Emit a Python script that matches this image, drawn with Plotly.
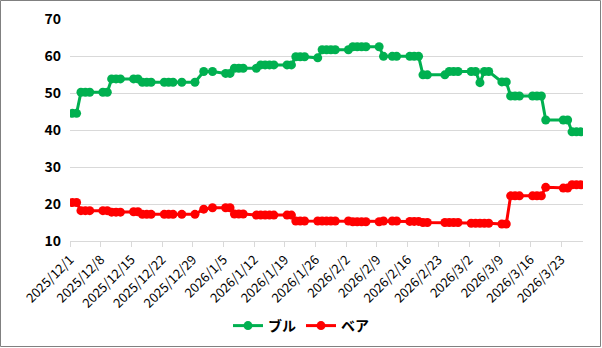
import plotly.graph_objects as go
import pandas as pd

dates = [
    "2025-12-01", "2025-12-02", "2025-12-03", "2025-12-04", "2025-12-05",
    "2025-12-08", "2025-12-09", "2025-12-10", "2025-12-11", "2025-12-12",
    "2025-12-15", "2025-12-16", "2025-12-17", "2025-12-18", "2025-12-19",
    "2025-12-22", "2025-12-23", "2025-12-24", "2025-12-26",
    "2025-12-29", "2025-12-31", "2026-01-02",
    "2026-01-05", "2026-01-06", "2026-01-07", "2026-01-08", "2026-01-09",
    "2026-01-12", "2026-01-13", "2026-01-14", "2026-01-15", "2026-01-16",
    "2026-01-19", "2026-01-20", "2026-01-21", "2026-01-22", "2026-01-23",
    "2026-01-26", "2026-01-27", "2026-01-28", "2026-01-29", "2026-01-30",
    "2026-02-02", "2026-02-03", "2026-02-04", "2026-02-05", "2026-02-06",
    "2026-02-09", "2026-02-10", "2026-02-12", "2026-02-13",
    "2026-02-16", "2026-02-17", "2026-02-18", "2026-02-19", "2026-02-20",
    "2026-02-24", "2026-02-25", "2026-02-26", "2026-02-27",
    "2026-03-02", "2026-03-03", "2026-03-04", "2026-03-05", "2026-03-06",
    "2026-03-09", "2026-03-10", "2026-03-11", "2026-03-12", "2026-03-13",
    "2026-03-16", "2026-03-17", "2026-03-18", "2026-03-19",
    "2026-03-23", "2026-03-24", "2026-03-25", "2026-03-26", "2026-03-27",
]

bull = [
    44.5, 44.5, 50.2, 50.2, 50.2,
    50.2, 50.2, 53.8, 53.8, 53.8,
    53.8, 53.8, 52.9, 52.9, 52.9,
    52.9, 52.9, 52.9, 52.9,
    52.9, 55.8, 55.8,
    55.3, 55.3, 56.7, 56.7, 56.7,
    56.7, 57.6, 57.6, 57.6, 57.6,
    57.6, 57.6, 59.8, 59.8, 59.8,
    59.5, 61.7, 61.7, 61.7, 61.7,
    61.7, 62.5, 62.5, 62.5, 62.5,
    62.5, 59.9, 59.9, 59.9,
    59.9, 59.9, 59.9, 54.9, 54.9,
    54.9, 55.8, 55.8, 55.8,
    55.8, 55.8, 52.8, 55.8, 55.8,
    53.0, 53.0, 49.2, 49.2, 49.2,
    49.2, 49.2, 49.2, 42.7,
    42.7, 42.7, 39.5, 39.5, 39.5,
]

bear = [
    20.4, 20.4, 18.2, 18.2, 18.2,
    18.2, 18.2, 17.8, 17.8, 17.8,
    17.9, 17.9, 17.2, 17.2, 17.2,
    17.2, 17.2, 17.2, 17.2,
    17.2, 18.6, 19.0,
    19.0, 19.0, 17.3, 17.3, 17.3,
    17.0, 17.0, 17.0, 17.0, 17.0,
    17.0, 17.0, 15.4, 15.4, 15.4,
    15.4, 15.4, 15.4, 15.4, 15.4,
    15.4, 15.2, 15.2, 15.2, 15.2,
    15.2, 15.4, 15.4, 15.4,
    15.3, 15.3, 15.3, 15.0, 15.0,
    15.0, 15.0, 15.0, 15.0,
    14.8, 14.8, 14.8, 14.8, 14.8,
    14.6, 14.6, 22.2, 22.2, 22.2,
    22.2, 22.2, 22.2, 24.5,
    24.3, 24.3, 25.2, 25.2, 25.2,
]

tick_dates = ["2025-12-01", "2025-12-08", "2025-12-15", "2025-12-22", "2025-12-29",
              "2026-01-05", "2026-01-12", "2026-01-19", "2026-01-26", "2026-02-02",
              "2026-02-09", "2026-02-16", "2026-02-23", "2026-03-02", "2026-03-09",
              "2026-03-16", "2026-03-23"]
tick_text = ["2025/12/1", "2025/12/8", "2025/12/15", "2025/12/22", "2025/12/29",
             "2026/1/5", "2026/1/12", "2026/1/19", "2026/1/26", "2026/2/2",
             "2026/2/9", "2026/2/16", "2026/2/23", "2026/3/2", "2026/3/9",
             "2026/3/16", "2026/3/23"]

x = pd.to_datetime(dates)
half = pd.Timedelta(hours=12)
tickvals = pd.to_datetime(tick_dates) - half

FONT = "Noto Sans CJK JP"
GREEN = "#00B050"
RED = "#FF0000"

fig = go.Figure()
fig.add_trace(go.Scatter(x=x, y=bull, name="ブル", mode="lines+markers",
                         line=dict(color=GREEN, width=3),
                         marker=dict(color=GREEN, size=9)))
fig.add_trace(go.Scatter(x=x, y=bear, name="ベア", mode="lines+markers",
                         line=dict(color=RED, width=3),
                         marker=dict(color=RED, size=9)))

L, R, T, B = 70, 19, 19, 107
W, H = 602, 348
pw, ph = W - L - R, H - T - B

fig.update_layout(
    width=W, height=H,
    margin=dict(l=L, r=R, t=T, b=B, autoexpand=False),
    paper_bgcolor="white", plot_bgcolor="white",
    font=dict(family=FONT, color="#000000", size=12),
    showlegend=True,
    legend=dict(orientation="h", x=(301 - L) / pw, xanchor="center", y=(H - B - 326) / ph, yanchor="middle",
                font=dict(family=FONT, size=14, weight="bold"),
                itemwidth=30, tracegroupgap=0, bgcolor="rgba(0,0,0,0)"),
    xaxis=dict(
        type="date", automargin=False,
        range=[pd.Timestamp("2025-12-01") - half, pd.Timestamp("2025-12-01") - half + pd.Timedelta(days=117)],
        tickmode="array", tickvals=tickvals, ticktext=tick_text,
        tickangle=-45, ticks="outside", ticklen=5, tickcolor="#d9d9d9",
        showgrid=False, showline=True, linecolor="#d9d9d9", linewidth=1,
        tickfont=dict(family=FONT, size=13, color="#000000"),
        zeroline=False,
    ),
    yaxis=dict(
        range=[10, 70], dtick=10, tick0=10, automargin=False,
        showgrid=True, gridcolor="#d9d9d9", gridwidth=1,
        showline=False, zeroline=False, ticks="",
        tickfont=dict(family=FONT, size=14, color="#000000", weight="bold"),
        ticklabelstandoff=8,
    ),
)

fig.add_shape(type="rect", xref="paper", yref="paper",
              x0=(0.5 - L) / pw, x1=(W - 1.5 - L) / pw,
              y0=(H - B - (H - 1.5)) / ph, y1=(H - B - 0.5) / ph,
              line=dict(color="#808080", width=1), fillcolor="rgba(0,0,0,0)", layer="below")

fig.write_html("out.html")
